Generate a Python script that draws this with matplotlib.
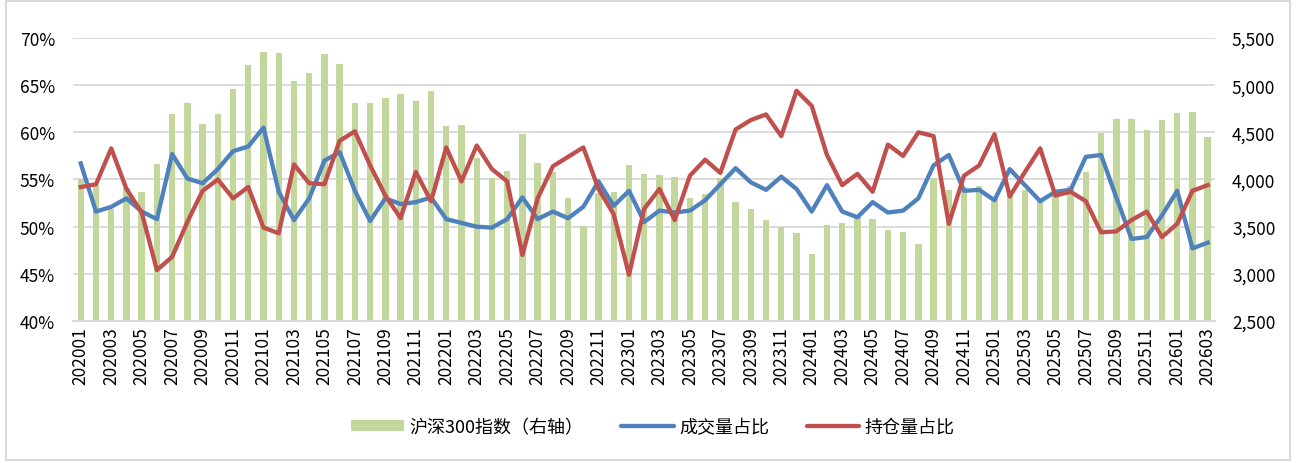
import numpy as np
import matplotlib
matplotlib.use("Agg")
import matplotlib.pyplot as plt
from matplotlib.patches import Patch, Rectangle
from matplotlib.lines import Line2D
from matplotlib.ticker import FuncFormatter

plt.rcParams['font.family'] = ['Noto Sans CJK SC', 'DejaVu Sans']

months = [f"{y}{m:02d}" for y in range(2020, 2027) for m in range(1, 13)][:75]

# 沪深300指数 month-end close (right axis)
hs300 = [4004, 3940, 3686, 3913, 3867, 4164, 4695, 4816, 4587, 4695, 4960, 5211,
         5351, 5337, 5048, 5124, 5332, 5224, 4811, 4806, 4866, 4909, 4832, 4940,
         4564, 4582, 4223, 4016, 4091, 4485, 4170, 4079, 3805, 3509, 3854, 3872,
         4157, 4061, 4051, 4029, 3799, 3843, 4018, 3765, 3690, 3573, 3496, 3431,
         3215, 3516, 3538, 3604, 3580, 3462, 3442, 3321, 4018, 3891, 3917, 3935,
         3817, 3890, 3887, 3771, 3840, 3936, 4076, 4497, 4641, 4641, 4526, 4630,
         4709, 4713, 4451]

# 成交量占比 (%)
volume_share = [56.7, 51.6, 52.1, 53.0, 51.6, 50.8, 57.7, 55.1, 54.6, 56.1, 58.0, 58.5,
                60.5, 53.7, 50.7, 53.0, 57.0, 57.9, 53.8, 50.6, 53.0, 52.4, 52.6, 53.1,
                50.8, 50.4, 50.0, 49.9, 50.8, 53.1, 50.8, 51.6, 50.9, 52.1, 54.8, 52.2,
                53.8, 50.5, 51.7, 51.5, 51.7, 52.8, 54.5, 56.2, 54.7, 53.9, 55.3, 54.0,
                51.6, 54.4, 51.6, 51.0, 52.6, 51.5, 51.7, 53.0, 56.5, 57.6, 53.8, 53.9,
                52.8, 56.1, 54.4, 52.7, 53.7, 53.9, 57.4, 57.6, 53.1, 48.7, 48.9, 51.2,
                53.8, 47.7, 48.3]

# 持仓量占比 (%)
oi_share = [54.2, 54.5, 58.3, 54.0, 51.5, 45.4, 46.8, 50.5, 53.8, 55.0, 53.0, 54.2,
            49.9, 49.3, 56.6, 54.6, 54.5, 59.1, 60.1, 56.5, 53.3, 50.9, 55.8, 52.7,
            58.4, 54.8, 58.6, 56.1, 54.8, 47.0, 53.0, 56.4, 57.4, 58.4, 54.0, 51.3,
            44.9, 51.9, 54.0, 50.7, 55.4, 57.1, 55.7, 60.3, 61.3, 61.9, 59.6, 64.4,
            62.8, 57.6, 54.4, 55.6, 53.7, 58.7, 57.5, 60.0, 59.6, 50.3, 55.4, 56.5,
            59.8, 53.2, 55.8, 58.3, 53.3, 53.7, 52.7, 49.4, 49.5, 50.7, 51.6, 48.9,
            50.3, 53.8, 54.4]

GREEN = '#C3D69B'
BLUE = '#4F81BD'
RED = '#C0504D'
GRID = '#D9D9D9'

x = np.arange(len(months))

fig = plt.figure(figsize=(12.97, 4.64), dpi=100)
ax = fig.add_axes([0.0564, 0.306, 0.8806, 0.610])
ax2 = ax.twinx()
# bars/grid on the lower layer, lines on top
ax.set_zorder(ax2.get_zorder() + 1)
ax.patch.set_visible(False)

ax2.bar(x, hs300, width=0.42, color=GREEN, zorder=2)
ax2.set_ylim(2500, 5500)
ax2.set_yticks(np.arange(2500, 5501, 500))
ax2.yaxis.set_major_formatter(FuncFormatter(lambda v, p: f"{int(v):,}"))
ax2.grid(axis='y', color=GRID, linewidth=1.3, zorder=0)
ax2.set_axisbelow(True)

ax.plot(x, np.array(volume_share) / 100, color=BLUE, lw=3.1, solid_joinstyle='round')
ax.plot(x, np.array(oi_share) / 100, color=RED, lw=3.1, solid_joinstyle='round')
ax.set_ylim(0.40, 0.70)
ax.set_yticks(np.arange(0.40, 0.701, 0.05))
ax.yaxis.set_major_formatter(FuncFormatter(lambda v, p: f"{v * 100:.0f}%"))
ax.set_xlim(-0.5, len(months) - 0.5)
ax.set_xticks(x[::2])
ax.set_xticklabels(months[::2], rotation=90)

for a in (ax, ax2):
    for s in a.spines.values():
        s.set_visible(False)
    a.tick_params(length=0, labelsize=12.5, colors='#000000')
ax2.spines['bottom'].set_visible(True)
ax2.spines['bottom'].set_color(GRID)
ax2.spines['bottom'].set_linewidth(1.3)
ax.tick_params(axis='y', pad=13)
ax2.tick_params(axis='y', pad=12)
ax.tick_params(axis='x', pad=4)

handles = [Patch(facecolor=GREEN, edgecolor='none'),
           Line2D([], [], color=BLUE, lw=3.1, solid_capstyle='round'),
           Line2D([], [], color=RED, lw=3.1, solid_capstyle='round')]
labels = ['沪深300指数（右轴）', '成交量占比', '持仓量占比']
fig.legend(handles, labels, loc='center', bbox_to_anchor=(0.5035, 0.0776), ncol=3,
           frameon=False, fontsize=13, handlelength=2.9, handleheight=0.6,
           handletextpad=0.3, columnspacing=2.1)

fig.patches.append(Rectangle((0.0046, 0.006), 0.9903, 0.99, transform=fig.transFigure,
                             fill=False, edgecolor='#D9D9D9', linewidth=1.5))

fig.savefig('out.png', dpi=100)
